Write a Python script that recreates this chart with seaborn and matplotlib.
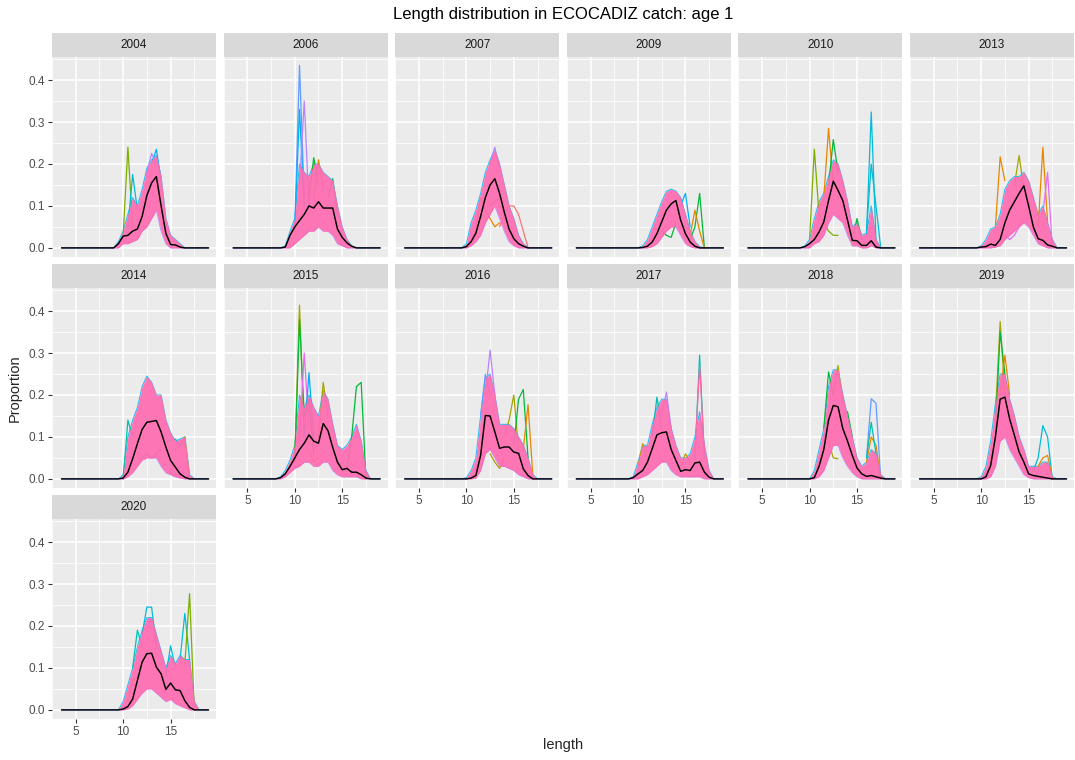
import numpy as np
import pandas as pd
import matplotlib
matplotlib.use("Agg")
import matplotlib.pyplot as plt
from matplotlib.patches import Rectangle
import seaborn as sns

# facets (survey years)
years = [2004, 2006, 2007, 2009, 2010, 2013, 2014, 2015, 2016, 2017, 2018, 2019, 2020]

# length classes, 3.5 .. 19 cm every 0.5; values below are given for 8.0 .. 18.0
length_grid = np.arange(3.5, 19.01, 0.5)
core_start = 8.0

# black line: mean proportion per length class (8.0 .. 18.0)
mean_prop = {
    2004: [0, 0, 0, .01, .028, .03, .04, .045, .075, .125, .155, .17, .10, .035, .008, .007, .002, 0, 0, 0, 0],
    2006: [0, 0, .002, .03, .05, .065, .08, .10, .095, .11, .095, .095, .095, .045, .025, .012, .004, 0, 0, 0, 0],
    2007: [0, 0, 0, 0, .003, .015, .035, .075, .12, .15, .165, .13, .085, .045, .022, .01, .004, 0, 0, 0, 0],
    2009: [0, 0, 0, 0, 0, .001, .004, .014, .034, .062, .09, .105, .113, .066, .034, .014, .004, 0, 0, 0, 0],
    2010: [0, 0, 0, .003, .01, .02, .038, .062, .113, .159, .137, .113, .066, .018, .017, .006, .006, .017, .002, 0, 0],
    2013: [0, 0, 0, 0, .002, .003, .009, .006, .02, .06, .09, .11, .13, .148, .10, .05, .022, .018, .007, .004, 0],
    2014: [0, 0, 0, 0, .002, .016, .048, .084, .118, .135, .137, .139, .112, .076, .044, .028, .012, .004, 0, 0, 0],
    2015: [0, .003, .012, .03, .05, .07, .085, .105, .09, .085, .132, .115, .075, .04, .022, .025, .016, .016, .01, .002, 0],
    2016: [0, 0, 0, 0, 0, .002, .008, .056, .151, .15, .112, .073, .076, .076, .064, .061, .024, .008, 0, 0, 0],
    2017: [0, 0, 0, .003, .012, .02, .04, .072, .105, .11, .112, .07, .044, .018, .022, .02, .038, .04, .016, .004, 0],
    2018: [0, 0, 0, 0, 0, .003, .03, .07, .14, .175, .172, .12, .09, .056, .026, .012, .006, .008, .005, .002, 0],
    2019: [0, 0, 0, 0, 0, .005, .032, .10, .19, .195, .143, .104, .064, .04, .012, .008, .006, .004, .002, 0, 0],
    2020: [0, 0, 0, 0, .002, .008, .026, .07, .114, .134, .135, .102, .086, .049, .064, .048, .046, .022, .006, 0, 0],
}

# upper / lower edge of the bulk of the replicate lines (8.0 .. 18.0)
upper_prop = {
    2004: [0, 0, 0, .015, .04, .08, .12, .10, .14, .19, .21, .22, .17, .07, .03, .02, .01, 0, 0, 0, 0],
    2006: [0, 0, .005, .04, .07, .20, .18, .17, .20, .20, .18, .17, .16, .10, .05, .02, .005, 0, 0, 0, 0],
    2007: [0, 0, 0, 0, .01, .06, .09, .13, .18, .21, .235, .20, .15, .10, .07, .03, .01, 0, 0, 0, 0],
    2009: [0, 0, 0, 0, 0, .005, .02, .05, .08, .11, .135, .14, .135, .12, .08, .04, .015, .003, 0, 0, 0],
    2010: [0, 0, 0, .005, .02, .07, .11, .13, .17, .21, .20, .16, .11, .05, .06, .03, .035, .10, .02, 0, 0],
    2013: [0, 0, 0, 0, .005, .02, .045, .05, .08, .14, .16, .17, .17, .18, .16, .12, .08, .10, .06, .02, 0],
    2014: [0, 0, 0, 0, .01, .10, .14, .17, .22, .245, .23, .20, .20, .14, .11, .09, .095, .10, .01, 0, 0],
    2015: [0, .005, .02, .045, .08, .20, .17, .20, .17, .15, .21, .19, .13, .08, .07, .08, .10, .13, .09, .02, 0],
    2016: [0, 0, 0, 0, .003, .02, .05, .15, .24, .25, .20, .13, .13, .13, .12, .10, .08, .05, .01, 0, 0],
    2017: [0, 0, 0, .005, .04, .08, .08, .13, .17, .19, .19, .12, .08, .05, .05, .06, .10, .16, .08, .02, 0],
    2018: [0, 0, 0, 0, 0, .02, .07, .12, .22, .26, .26, .20, .15, .10, .05, .03, .04, .07, .06, .01, 0],
    2019: [0, 0, 0, 0, .005, .03, .09, .18, .25, .25, .19, .15, .10, .07, .03, .03, .03, .04, .04, .005, 0],
    2020: [0, 0, 0, 0, .02, .06, .10, .15, .19, .22, .22, .18, .14, .10, .13, .11, .13, .12, .12, .02, 0],
}
lower_prop = {
    2004: [0, 0, 0, 0, .01, .01, .015, .02, .04, .05, .07, .09, .04, .01, 0, 0, 0, 0, 0, 0, 0],
    2006: [0, 0, 0, 0, .01, .02, .03, .04, .04, .05, .04, .04, .03, .01, .005, 0, 0, 0, 0, 0, 0],
    2007: [0, 0, 0, 0, 0, .005, .015, .03, .06, .08, .10, .07, .04, .015, .005, 0, 0, 0, 0, 0, 0],
    2009: [0, 0, 0, 0, 0, 0, 0, .003, .01, .025, .04, .05, .05, .03, .01, .003, 0, 0, 0, 0, 0],
    2010: [0, 0, 0, 0, 0, .01, .015, .03, .06, .08, .07, .06, .03, .005, .005, 0, 0, .005, 0, 0, 0],
    2013: [0, 0, 0, 0, 0, 0, 0, .002, .005, .02, .03, .04, .05, .06, .05, .03, .01, .005, 0, 0, 0],
    2014: [0, 0, 0, 0, 0, .005, .015, .03, .045, .05, .05, .05, .03, .015, .01, .005, .002, 0, 0, 0, 0],
    2015: [0, 0, .005, .015, .025, .03, .04, .04, .03, .03, .04, .04, .02, .01, .005, .005, .005, .005, 0, 0, 0],
    2016: [0, 0, 0, 0, 0, 0, .002, .02, .06, .07, .05, .03, .03, .025, .02, .01, .005, 0, 0, 0, 0],
    2017: [0, 0, 0, 0, 0, .005, .01, .02, .03, .04, .04, .02, .01, .005, .005, .005, .005, .005, 0, 0, 0],
    2018: [0, 0, 0, 0, 0, 0, .005, .02, .05, .08, .08, .05, .03, .015, .005, 0, 0, 0, 0, 0, 0],
    2019: [0, 0, 0, 0, 0, 0, .005, .03, .09, .10, .07, .05, .03, .01, .003, 0, 0, 0, 0, 0, 0],
    2020: [0, 0, 0, 0, 0, .002, .01, .025, .04, .05, .05, .04, .03, .02, .025, .015, .01, .005, 0, 0, 0],
}

# single replicates that stick out of the bulk: (colour, lengths, proportions)
spikes = {
    2004: [("#7CAE00", [10.0, 10.5, 11.0], [.03, .24, .05]),
           ("#00BCD8", [10.5, 11.0, 11.5], [.05, .175, .09]),
           ("#00B0F6", [13.0, 13.5, 14.0], [.20, .235, .16]),
           ("#B983FF", [12.5, 13.0, 13.5], [.18, .225, .20])],
    2006: [("#619CFF", [10.0, 10.5, 11.0], [.05, .435, .12]),
           ("#00B0F6", [10.0, 10.5, 11.0], [.04, .33, .10]),
           ("#B983FF", [10.5, 11.0, 11.5], [.15, .35, .10]),
           ("#00BA38", [11.5, 12.0, 12.5], [.12, .215, .15]),
           ("#E58700", [12.0, 12.5, 13.0], [.12, .21, .14]),
           ("#00BF7D", [13.5, 14.0, 14.5], [.12, .165, .08])],
    2007: [("#E58700", [11.0, 11.5, 12.0, 12.5, 13.0, 13.5], [.05, .12, .09, .07, .05, .06]),
           ("#F8766D", [13.5, 14.0, 14.5, 15.0, 15.5, 16.0, 16.5], [.05, .08, .10, .10, .08, .04, 0]),
           ("#00BA38", [12.5, 13.0, 13.5, 14.0], [.10, .11, .12, .11]),
           ("#B983FF", [12.5, 13.0, 13.5], [.20, .24, .18])],
    2009: [("#00BA38", [15.5, 16.0, 16.5, 17.0], [.02, .05, .13, 0]),
           ("#00BA38", [12.5, 13.0, 13.5, 14.0], [.04, .03, .025, .06]),
           ("#E58700", [15.5, 16.0, 16.5, 17.0], [.03, .09, .04, 0]),
           ("#00B0F6", [14.5, 15.0, 15.5], [.10, .13, .05])],
    2010: [("#7CAE00", [10.0, 10.5, 11.0], [.02, .235, .08]),
           ("#E58700", [11.5, 12.0, 12.5], [.12, .285, .15]),
           ("#00BA38", [12.0, 12.5, 13.0], [.15, .258, .18]),
           ("#00BCD8", [16.0, 16.5, 17.0], [.03, .324, .02]),
           ("#00BCD8", [16.0, 16.5, 17.0, 17.5], [.04, .20, .10, 0]),
           ("#7CAE00", [11.0, 11.5, 12.0, 12.5, 13.0], [.08, .06, .04, .03, .03]),
           ("#00BA38", [14.5, 15.0, 15.5], [.02, .07, .02])],
    2013: [("#E58700", [11.5, 12.0, 12.5], [.05, .217, .16]),
           ("#E58700", [16.0, 16.5, 17.0], [.05, .24, .06]),
           ("#E76BF3", [16.5, 17.0, 17.5], [.08, .18, 0]),
           ("#A3A500", [13.5, 14.0, 14.5], [.15, .22, .14]),
           ("#E76BF3", [12.5, 13.0, 13.5, 14.0, 14.5], [.03, .02, .03, .05, .07])],
    2014: [("#00C0AF", [10.0, 10.5, 11.0], [0, .14, .10]),
           ("#00C0AF", [12.0, 12.5, 13.0, 13.5, 14.0], [.05, .06, .05, .06, .07]),
           ("#A3A500", [15.5, 16.0, 16.5, 17.0], [.07, .08, .10, 0]),
           ("#00BCD8", [15.0, 15.5, 16.0, 16.5], [.09, .095, .08, .09])],
    2015: [("#A3A500", [10.0, 10.5, 11.0], [.05, .414, .10]),
           ("#00BA38", [10.0, 10.5, 11.0, 11.5, 12.0], [.04, .38, .15, .19, .06]),
           ("#E76BF3", [10.5, 11.0, 11.5], [.10, .30, .12]),
           ("#00B0F6", [11.0, 11.5, 12.0], [.10, .253, .10]),
           ("#A3A500", [12.5, 13.0, 13.5], [.10, .23, .15]),
           ("#00BA38", [15.5, 16.0, 16.5, 17.0, 17.5], [.02, .10, .22, .23, 0]),
           ("#C99800", [11.5, 12.0, 12.5], [.07, .04, .05])],
    2016: [("#B983FF", [12.0, 12.5, 13.0], [.20, .307, .20]),
           ("#619CFF", [11.5, 12.0, 12.5], [.15, .249, .20]),
           ("#A3A500", [14.0, 14.5, 15.0, 15.5], [.10, .14, .20, .07]),
           ("#00BA38", [15.0, 15.5, 16.0, 16.5], [.08, .19, .213, .05]),
           ("#E58700", [16.0, 16.5, 17.0], [.07, .177, .01]),
           ("#A3A500", [12.5, 13.0, 13.5, 14.0], [.06, .04, .025, .05])],
    2017: [("#00C0AF", [16.0, 16.5, 17.0], [.05, .295, .05]),
           ("#FF67A4", [16.0, 16.5, 17.0], [.06, .27, .06]),
           ("#00C0AF", [11.5, 12.0, 12.5], [.10, .195, .12]),
           ("#B983FF", [12.5, 13.0, 13.5], [.15, .207, .12]),
           ("#C99800", [10.0, 10.5, 11.0], [.03, .084, .05]),
           ("#C99800", [14.5, 15.0, 15.5], [.03, .06, .04])],
    2018: [("#619CFF", [16.0, 16.5, 17.0, 17.5], [.05, .191, .18, 0]),
           ("#E58700", [16.0, 16.5, 17.0, 17.5], [.04, .10, .08, 0]),
           ("#00C0AF", [16.0, 16.5, 17.0], [.05, .135, .06]),
           ("#A3A500", [11.5, 12.0, 12.5, 13.0], [.10, .09, .05, .048]),
           ("#00BA38", [11.5, 12.0, 12.5], [.12, .255, .20]),
           ("#A3A500", [12.5, 13.0, 13.5], [.20, .27, .18]),
           ("#00BA38", [13.5, 14.0, 14.5], [.15, .16, .10])],
    2019: [("#A3A500", [11.5, 12.0, 12.5], [.15, .375, .20]),
           ("#00BA38", [11.5, 12.0, 12.5], [.12, .35, .25]),
           ("#E58700", [12.0, 12.5, 13.0], [.20, .295, .20]),
           ("#00BCD8", [15.5, 16.0, 16.5, 17.0, 17.5], [.02, .05, .127, .10, 0]),
           ("#E58700", [16.0, 16.5, 17.0, 17.5], [.03, .05, .056, 0])],
    2020: [("#00C0AF", [11.0, 11.5, 12.0], [.10, .19, .15]),
           ("#00BCD8", [12.0, 12.5, 13.0, 13.5], [.18, .245, .245, .15]),
           ("#00BCD8", [14.5, 15.0, 15.5], [.08, .153, .10]),
           ("#00BCD8", [16.0, 16.5, 17.0], [.12, .23, .12]),
           ("#7CAE00", [16.5, 17.0, 17.5], [.11, .277, 0]),
           ("#7CAE00", [10.5, 11.0, 11.5], [.02, .07, .08])],
}

band_pink = "#FF6BB0"


def pad(vals):
    out = np.zeros(len(length_grid))
    i0 = int(np.searchsorted(length_grid, core_start))
    out[i0:i0 + len(vals)] = vals
    return out


rows = []
for yr in years:
    d = pd.DataFrame({"year": yr, "length": length_grid,
                      "mean": pad(mean_prop[yr]),
                      "hi": pad(upper_prop[yr]),
                      "lo": pad(lower_prop[yr])})
    rows.append(d)
df = pd.concat(rows, ignore_index=True)

sns.set_theme(style="darkgrid", rc={
    "axes.facecolor": "#EBEBEB",
    "grid.color": "white",
    "axes.edgecolor": "#EBEBEB",
})
plt.rcParams["font.family"] = ["Liberation Sans", "DejaVu Sans"]


def draw_panel(data, **kws):
    ax = plt.gca()
    yr = data["year"].iloc[0]
    # replicate edges first, then the dense pink bulk over them
    ax.plot(data["length"], data["hi"], color="#00B0F6", lw=0.8, alpha=0.8, zorder=2)
    ax.plot(data["length"], data["lo"], color="#B983FF", lw=0.8, alpha=0.8, zorder=2)
    for col, xs, ys in spikes[yr]:
        ax.plot(xs, ys, color=col, lw=0.9, zorder=2.1)
    ax.fill_between(data["length"], data["lo"], data["hi"], color=band_pink,
                    alpha=0.92, lw=0, zorder=2.2)
    sns.lineplot(data=data, x="length", y="mean", color="black", lw=1.05, ax=ax,
                 zorder=3, errorbar=None)


g = sns.FacetGrid(df, col="year", col_wrap=6, sharex=True, sharey=True,
                  height=2, aspect=0.82, despine=False)
g.map_dataframe(draw_panel)
g.set_titles("")
g.set_axis_labels("", "")

fig = g.figure
fig.set_size_inches(10.75, 7.6)
fig.subplots_adjust(left=52 / 1075, right=0.999, top=1 - 57 / 760,
                    bottom=1 - 719 / 760, wspace=0.047, hspace=0.155)

strip_h = 24 / 200
bottom_idx = {7, 8, 9, 10, 11, 12}
left_idx = {0, 6, 12}
for i, (ax, yr) in enumerate(zip(g.axes.flat, years)):
    ax.set_xlim(2.725, 19.775)
    ax.set_ylim(-0.0217, 0.455)
    ax.set_xticks([5, 10, 15])
    ax.set_yticks([0.0, 0.1, 0.2, 0.3, 0.4])
    ax.set_xticks([2.5, 7.5, 12.5, 17.5], minor=True)
    ax.set_yticks([0.05, 0.15, 0.25, 0.35, 0.45], minor=True)
    ax.grid(which="major", color="white", lw=1.1)
    ax.grid(which="minor", color="white", lw=0.55)
    for s in ax.spines.values():
        s.set_visible(False)
    ax.set_xlabel("")
    ax.set_ylabel("")
    xb = i in bottom_idx
    yl = i in left_idx
    ax.tick_params(axis="x", which="major", bottom=xb, labelbottom=xb, length=3,
                   width=0.8, color="#333333", labelsize=8.5, labelcolor="#4D4D4D", pad=2)
    ax.tick_params(axis="y", which="major", left=yl, labelleft=yl, length=3,
                   width=0.8, color="#333333", labelsize=8.5, labelcolor="#4D4D4D", pad=2)
    ax.tick_params(which="minor", length=0)
    if yl:
        ax.set_yticklabels(["0.0", "0.1", "0.2", "0.3", "0.4"])
    ax.add_patch(Rectangle((0, 1.0), 1, strip_h, transform=ax.transAxes,
                           facecolor="#D9D9D9", edgecolor="none", clip_on=False))
    ax.text(0.5, 1.0 + strip_h / 2, str(yr), transform=ax.transAxes, ha="center",
            va="center", fontsize=8.5, color="#1A1A1A")

cx = (52 + 1075) / 2 / 1075
fig.text(cx, 1 - 15 / 760, "Length distribution in ECOCADIZ catch: age 1",
         ha="center", va="center", fontsize=12, color="black")
fig.text(cx, 1 - 745 / 760, "length", ha="center", va="center", fontsize=10.5)
fig.text(15 / 1075, 1 - 388 / 760, "Proportion", ha="center", va="center",
         rotation=90, fontsize=10.5)

fig.savefig("out.png", dpi=100)
